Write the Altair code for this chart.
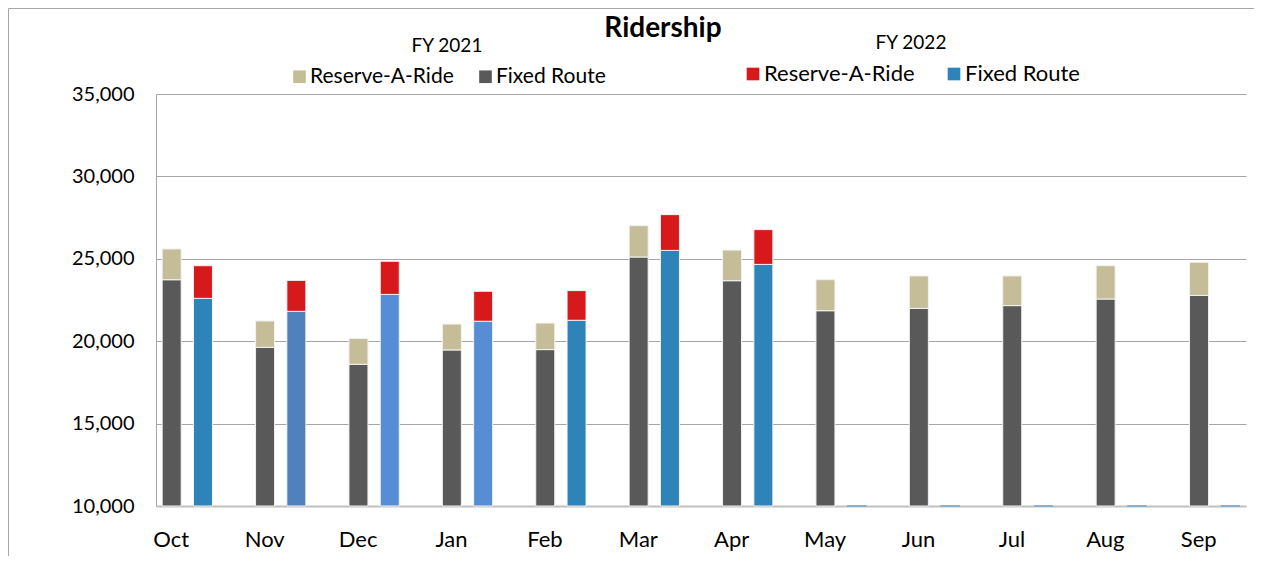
import altair as alt
import pandas as pd

months = ["Oct", "Nov", "Dec", "Jan", "Feb", "Mar", "Apr", "May", "Jun", "Jul", "Aug", "Sep"]
fy21_fixed = [23730, 19630, 18600, 19470, 19490, 25110, 23670, 21850, 21990, 22160, 22560, 22780]
fy21_rar = [1870, 1600, 1570, 1570, 1610, 1900, 1860, 1880, 1970, 1800, 2020, 2010]
fy22_fixed = [22600, 21810, 22840, 21210, 21270, 25510, 24660, 0, 0, 0, 0, 0]
fy22_rar = [1980, 1880, 2010, 1820, 1800, 2170, 2110, 0, 0, 0, 0, 0]
fy22_fixed_key = ["Fixed Route", "Fixed Route (Nov)", "Fixed Route (Dec-Jan)", "Fixed Route (Dec-Jan)",
                  "Fixed Route", "Fixed Route", "Fixed Route", "Fixed Route", "Fixed Route",
                  "Fixed Route", "Fixed Route", "Fixed Route"]

rows = []
for i, m in enumerate(months):
    rows.append({"month": m, "fy": "FY 2021", "series": "Fixed Route", "ord": 0, "value": fy21_fixed[i]})
    rows.append({"month": m, "fy": "FY 2021", "series": "Reserve-A-Ride", "ord": 1, "value": fy21_rar[i]})
    rows.append({"month": m, "fy": "FY 2022", "series": fy22_fixed_key[i], "ord": 0, "value": fy22_fixed[i]})
    rows.append({"month": m, "fy": "FY 2022", "series": "Reserve-A-Ride", "ord": 1, "value": fy22_rar[i]})
df = pd.DataFrame(rows)

FONT = "Lato"

base = alt.Chart(df).encode(
    x=alt.X("month:N", sort=months,
            scale=alt.Scale(paddingInner=0.4615, paddingOuter=0.066),
            axis=alt.Axis(title=None, labelAngle=0, labelFontSize=22, labelFont=FONT,
                          labelColor="black", labelPadding=23, labelOffset=-16, ticks=False,
                          domainColor="#BFBFBF", domainWidth=2, grid=False)),
    xOffset=alt.XOffset("fy:N", scale=alt.Scale(domain=["FY 2021", "FY 2022"],
                                                paddingInner=0.393, paddingOuter=0)),
    y=alt.Y("value:Q", stack="zero",
            scale=alt.Scale(domain=[10000, 35000], clamp=True, nice=False, zero=False),
            axis=alt.Axis(title=None, values=[10000, 15000, 20000, 25000, 30000, 35000],
                          format=",.0f", labelFontSize=20, labelFont=FONT, labelColor="black",
                          labelPadding=22, ticks=False, gridColor="#A6A6A6", gridWidth=1,
                          domainColor="#A6A6A6")),
    order=alt.Order("ord:Q", sort="ascending"),
    stroke=alt.condition("datum.value == 0", alt.value("#86AECB"), alt.value("#F2F2F2")),
)

fy21 = base.transform_filter("datum.fy == 'FY 2021'").mark_bar(strokeWidth=1).encode(
    color=alt.Color("series:N",
                    scale=alt.Scale(domain=["Reserve-A-Ride", "Fixed Route"],
                                    range=["#C5BD97", "#595959"]),
                    legend=alt.Legend(orient="none", legendX=133, legendY=-57,
                                      direction="horizontal", title="FY 2021",
                                      titleAnchor="middle", titleFontSize=19,
                                      titleFontWeight="normal", titleFont=FONT,
                                      titleColor="black", titlePadding=10,
                                      labelFontSize=21, labelFont=FONT, labelColor="black",
                                      symbolType="square", symbolSize=160,
                                      symbolStrokeWidth=0, labelOffset=0,
                                      columnPadding=21, padding=0,
                                      values=["Reserve-A-Ride", "Fixed Route"]))
)

fy22 = base.transform_filter("datum.fy == 'FY 2022'").mark_bar(strokeWidth=1).encode(
    color=alt.Color("series:N",
                    scale=alt.Scale(domain=["Reserve-A-Ride", "Fixed Route",
                                            "Fixed Route (Nov)", "Fixed Route (Dec-Jan)"],
                                    range=["#D7191C", "#2E84B9", "#4F81BD", "#558ED5"]),
                    legend=alt.Legend(orient="none", legendX=586, legendY=-60,
                                      direction="horizontal", title="FY 2022",
                                      titleAnchor="middle", titleFontSize=19,
                                      titleFontWeight="normal", titleFont=FONT,
                                      titleColor="black", titlePadding=10,
                                      labelFontSize=22, labelFont=FONT, labelColor="black",
                                      symbolType="square", symbolSize=160,
                                      symbolStrokeWidth=0, labelOffset=0,
                                      columnPadding=28, padding=0,
                                      values=["Reserve-A-Ride", "Fixed Route"]))
)

frame_src = alt.Chart(pd.DataFrame({"f": [0]}))
frame_top = frame_src.mark_rule(stroke="#A6A6A6", strokeWidth=1).encode(
    x=alt.value(-147.5), x2=alt.value(1110), y=alt.value(-85.5))
frame_left = frame_src.mark_rule(stroke="#A6A6A6", strokeWidth=1).encode(
    x=alt.value(-147.5), y=alt.value(-85.5), y2=alt.value(470))

chart = alt.layer(frame_top, frame_left, fy21, fy22).resolve_scale(
    color="independent"
).properties(
    width=1090, height=412,
    padding={"left": 148, "top": 86, "right": 8, "bottom": 50},
    autosize=alt.AutoSizeParams(type="none"),
    title=alt.TitleParams("Ridership", fontSize=28, font=FONT, fontWeight="bold",
                          anchor="middle", dx=-38, dy=35, offset=0, color="black"),
).configure_view(strokeWidth=0)

chart.save("out.html", embed_options={"renderer": "svg", "actions": False})
